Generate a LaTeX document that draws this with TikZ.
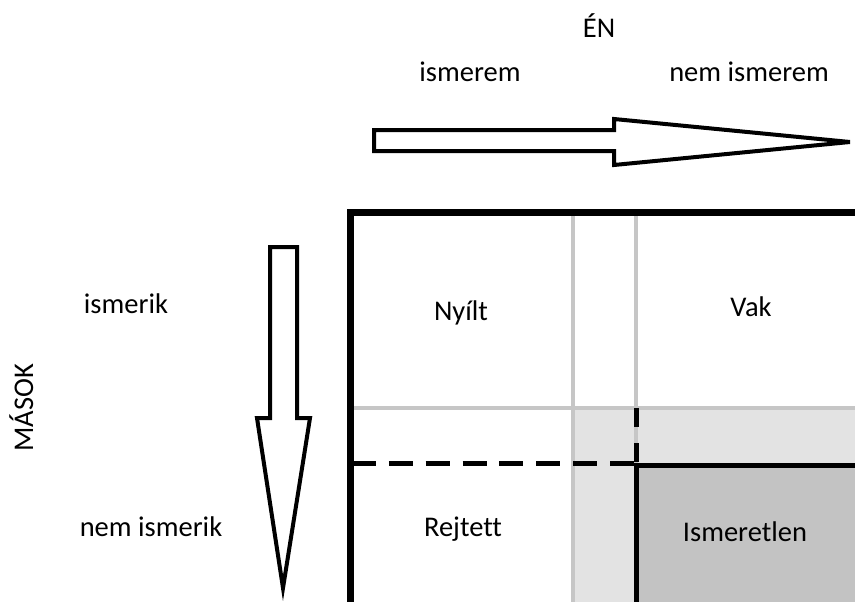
\documentclass[tikz,border=0pt]{standalone}
\usepackage{fontspec}
\setmainfont{Carlito}[Ligatures=NoCommon]
\definecolor{lightg}{HTML}{E3E3E3}
\definecolor{darkg}{HTML}{C3C3C3}
\definecolor{gline}{HTML}{C6C6C6}
\begin{document}
\begin{tikzpicture}[x=1pt,y=-1pt,
  lbl/.style={font=\fontsize{28.5}{32}\selectfont, inner sep=0pt, anchor=base},
  greyline/.style={draw=gline, line width=4pt},
  blk/.style={draw=black, line width=5pt},
  fatarrow/.style={draw=black, line width=4pt, fill=white, line join=miter}]
\useasboundingbox (0,0) rectangle (855,602);
\clip (0,0) rectangle (855,602);
% fills
\fill[lightg] (573,408) rectangle (880,640);
\fill[darkg] (636,465) rectangle (880,640);
% grey grid lines
\draw[greyline] (573,212) -- (573,640);
\draw[greyline] (636,212) -- (636,465);
\draw[greyline] (350,408) -- (880,408);
% black inner lines
\draw[blk, dash pattern=on 19pt off 16pt] (636,408) -- (636,465);
\draw[blk, dash pattern=on 24pt off 12.86pt] (352,463) -- (638,463);
\draw[blk] (636,465) -- (880,465);
\draw[blk] (636,463) -- (636,640);
% frame
\draw[line width=7pt, line join=miter] (350.5,700) -- (350.5,212) -- (900,212);
% arrows
\draw[fatarrow] (374,130) -- (614,130) -- (614,119) -- (850,142) -- (614,165) -- (614,151) -- (374,151) -- cycle;
\draw[fatarrow] (270,247) -- (297,247) -- (297,418) -- (310,418) -- (283,588) -- (257,418) -- (270,418) -- cycle;
% labels
\node[lbl] (en) at (599,38) {ÉN};
\node[lbl] (ism) at (470,82) {ismerem};
\node[lbl] (nism) at (749,82) {nem ismerem};
\node[lbl] (ismk) at (126,313) {ismerik};
\node[lbl] (nismk) at (151,536) {nem ismerik};
\node[lbl, rotate=90] (masok) at (33,408) {MÁSOK};
\node[lbl] (nyilt) at (461,320) {Nyílt};
\node[lbl] (vak) at (751,316) {Vak};
\node[lbl] (rejt) at (463,536) {Rejtett};
\node[lbl] (ismer) at (745,541) {Ismeretlen};
\end{tikzpicture}
\end{document}
